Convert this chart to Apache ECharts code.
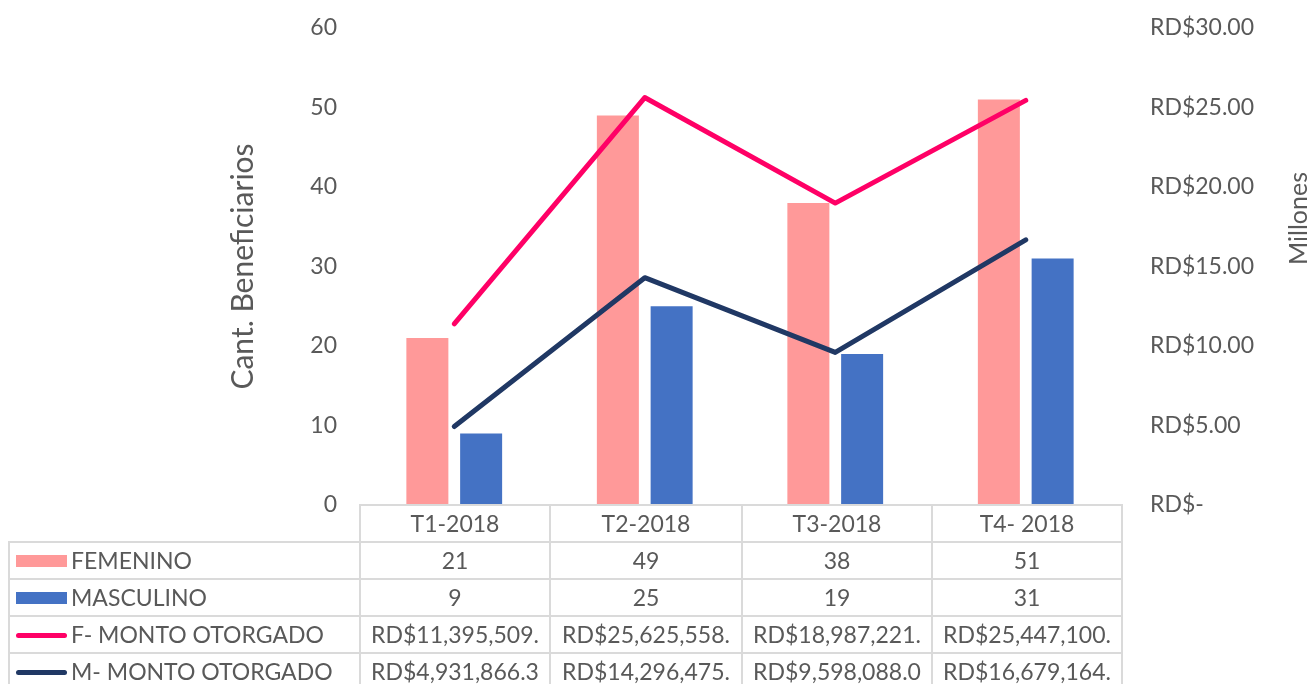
<!DOCTYPE html>
<html>
<head>
<meta charset="utf-8">
<script src="https://cdn.jsdelivr.net/npm/echarts@6/dist/echarts.min.js"></script>
<style>
    body {
        margin: 0;
        background: #fff;
        font-family: Lato, "Noto Sans", sans-serif;
    }

    #wrap {
        position: relative;
        width: 1312px;
        height: 684px;
        overflow: hidden;
    }

    #chart {
        width: 1312px;
        height: 684px;
    }

    #tabla {
        position: absolute;
        left: 8px;
        top: 504px;
        border-collapse: collapse;
        color: #595959;
        font-size: 23px;
        table-layout: fixed;
    }

    #tabla td {
        border: 2px solid #dadada;
        height: 35px;
        line-height: 35px;
        padding: 0;
        text-align: center;
        white-space: nowrap;
        overflow: hidden;
    }

    #tabla td.blank {
        border-top: none;
        border-left: none;
    }

    #tabla td.serie {
        text-align: left;
        padding-left: 6px;
    }

    .key {
        display: inline-block;
        width: 51px;
        vertical-align: middle;
        margin-right: 4px;
        position: relative;
        top: -2px;
    }
</style>
</head>
<body>
<div id="wrap">
    <div id="chart"></div>
    <table id="tabla"></table>
</div>
<script>
const categorias = ['T1-2018', 'T2-2018', 'T3-2018', 'T4- 2018']
const femenino = [21, 49, 38, 51]
const masculino = [9, 25, 19, 31]
const montoF = [11395509, 25625558, 18987221, 25447100]
const montoM = [4931866.3, 14296475, 9598088.0, 16679164]

const nombres = ['FEMENINO', 'MASCULINO', 'F- MONTO OTORGADO', 'M- MONTO OTORGADO']
const colores = ['#ff9999', '#4472c4', '#ff0066', '#203864']

const texto = '#595959'

// monto como en la tabla de Excel (cortado por el ancho de la celda)
function moneda(v) {
    const [ent, dec] = v.toFixed(2).split('.')
    const s = 'RD$' + ent.replace(/\B(?=(\d{3})+(?!\d))/g, ',') + '.' + dec
    return s.slice(0, 14)
}

const chart = echarts.init(document.getElementById('chart'))
chart.setOption({
    animation: false,
    textStyle: { fontFamily: 'Lato, "Noto Sans", sans-serif' },
    grid: { left: 359, right: 191, top: 28, bottom: 179, outerBoundsMode: 'none' },
    xAxis: {
        type: 'category',
        data: categorias,
        axisLine: { show: false },
        axisTick: { show: false },
        axisLabel: { show: false }
    },
    yAxis: [
        {
            type: 'value',
            min: 0,
            max: 60,
            interval: 10,
            name: 'Cant. Beneficiarios',
            nameLocation: 'middle',
            nameRotate: 90,
            nameGap: 101,
            nameTextStyle: { color: texto, fontSize: 30 },
            axisLine: { show: false },
            axisTick: { show: false },
            splitLine: { show: false },
            axisLabel: { color: texto, fontSize: 23, margin: 22 }
        },
        {
            type: 'value',
            position: 'right',
            min: 0,
            max: 30000000,
            interval: 5000000,
            name: 'Millones',
            nameLocation: 'middle',
            nameRotate: 90,
            nameGap: 165,
            nameTextStyle: { color: texto, fontSize: 25, padding: [0, 0, 0, 96] },
            axisLine: { show: false },
            axisTick: { show: false },
            splitLine: { show: false },
            axisLabel: {
                color: texto,
                fontSize: 23,
                margin: 29,
                formatter: v => v === 0 ? 'RD$-' : 'RD$' + (v / 1e6).toFixed(2)
            }
        }
    ],
    series: [
        {
            name: nombres[0],
            type: 'bar',
            data: femenino,
            barWidth: 42,
            barGap: '28%',
            itemStyle: { color: colores[0] }
        },
        {
            name: nombres[1],
            type: 'bar',
            data: masculino,
            barWidth: 42,
            itemStyle: { color: colores[1] }
        },
        {
            name: nombres[2],
            type: 'line',
            yAxisIndex: 1,
            data: montoF,
            symbol: 'none',
            lineStyle: { color: colores[2], width: 5, cap: 'round', join: 'round' }
        },
        {
            name: nombres[3],
            type: 'line',
            yAxisIndex: 1,
            data: montoM,
            symbol: 'none',
            lineStyle: { color: colores[3], width: 5, cap: 'round', join: 'round' }
        }
    ]
})

// tabla de datos bajo el gráfico
const anchos = [351, 190, 192, 190, 190]
const filas = [femenino, masculino, montoF.map(moneda), montoM.map(moneda)]
let html = '<colgroup>' + anchos.map(w => `<col style="width:${w}px">`).join('') + '</colgroup>'
html += '<tr><td class="blank"></td>' + categorias.map(c => `<td>${c}</td>`).join('') + '</tr>'
filas.forEach((fila, i) => {
    const alto = i < 2 ? 12 : 5
    const radio = i < 2 ? 0 : 3
    html += `<tr><td class="serie"><span class="key" style="height:${alto}px;background:${colores[i]};border-radius:${radio}px"></span>${nombres[i]}</td>`
    html += fila.map(v => `<td>${v}</td>`).join('') + '</tr>'
})
document.getElementById('tabla').innerHTML = html
</script>
</body>
</html>
